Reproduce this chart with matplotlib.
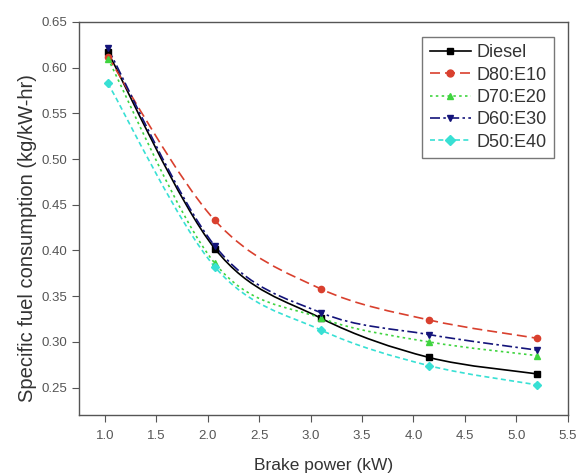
import numpy as np
import matplotlib
matplotlib.use('Agg')
import matplotlib.pyplot as plt
from matplotlib.path import Path
from matplotlib.patches import PathPatch
from matplotlib.lines import Line2D

plt.rcParams['font.family'] = ['Liberation Sans', 'DejaVu Sans']

# brake power (kW)
power = [1.03, 2.07, 3.10, 4.15, 5.20]

# specific fuel consumption (kg/kW-hr)
diesel = [0.617, 0.402, 0.326, 0.283, 0.265]
d80_e10 = [0.612, 0.433, 0.358, 0.324, 0.304]
d70_e20 = [0.610, 0.386, 0.326, 0.300, 0.285]
d60_e30 = [0.621, 0.405, 0.332, 0.308, 0.291]
d50_e40 = [0.583, 0.382, 0.313, 0.274, 0.253]

labels = ['Diesel', 'D80:E10', 'D70:E20', 'D60:E30', 'D50:E40']
series = [diesel, d80_e10, d70_e20, d60_e30, d50_e40]
colors = ['#000000', '#d9402e', '#3fd43f', '#14147a', '#38e0d4']
markers = ['s', 'o', '^', 'v', 'D']
styles = ['-', (0, (6, 3)), (0, (1.5, 2)), (0, (6, 2, 1.5, 2)), (0, (3, 2))]


def smooth_path(xs, ys):
    # cubic bezier through the points (catmull-rom style), drawn by matplotlib
    p = np.column_stack([xs, ys])
    n = len(p)
    verts = [p[0]]
    codes = [Path.MOVETO]
    for i in range(n - 1):
        p0 = p[i - 1] if i > 0 else p[i]
        p3 = p[i + 2] if i + 2 < n else p[i + 1]
        c1 = p[i] + (p[i + 1] - p0) / 6.0
        c2 = p[i + 1] - (p3 - p[i]) / 6.0
        verts += [c1, c2, p[i + 1]]
        codes += [Path.CURVE4] * 3
    return Path(verts, codes)


fig = plt.figure(figsize=(5.83, 4.75), dpi=100)
ax = fig.add_axes([0.1355, 0.1263, 0.8385, 0.8274])

handles = []
for lab, ys, c, m, ls in zip(labels, series, colors, markers, styles):
    patch = PathPatch(smooth_path(power, ys), fill=False, edgecolor=c,
                      linewidth=1.2, linestyle=ls, zorder=2)
    ax.add_patch(patch)
    ax.plot(power, ys, linestyle='none', marker=m, color=c, markersize=4.5, zorder=3)
    handles.append(Line2D([], [], color=c, linestyle=ls, linewidth=1.2,
                          marker=m, markersize=5, label=lab))

ax.set_xlim(0.75, 5.5)
ax.set_ylim(0.22, 0.65)
ax.set_xticks(np.arange(1.0, 5.51, 0.5))
ax.set_yticks(np.arange(0.25, 0.651, 0.05))
ax.xaxis.set_major_formatter(matplotlib.ticker.FormatStrFormatter('%.1f'))
ax.yaxis.set_major_formatter(matplotlib.ticker.FormatStrFormatter('%.2f'))
ax.tick_params(direction='out', length=5, width=0.8, labelsize=9.5,
               labelcolor='#555555', color='#555555')
ax.tick_params(axis='x', pad=6)
for s in ax.spines.values():
    s.set_color('#555555')
    s.set_linewidth(1.0)

ax.set_xlabel('Brake power (kW)', fontsize=12.5, color='#333333', labelpad=11)
ax.set_ylabel('Specific fuel consumption (kg/kW-hr)', fontsize=14.5, color='#333333', labelpad=3)
ax.yaxis.label.set_y(0.45)

leg = ax.legend(handles=handles, loc='upper right', bbox_to_anchor=(0.99, 0.985),
                fontsize=13, frameon=True, fancybox=False, handlelength=2.3,
                handletextpad=0.3, borderpad=0.4, labelspacing=0.3)
leg.get_frame().set_edgecolor('#555555')
leg.get_frame().set_linewidth(1.0)
for t in leg.get_texts():
    t.set_color('#333333')

fig.savefig('out.png', dpi=100)
